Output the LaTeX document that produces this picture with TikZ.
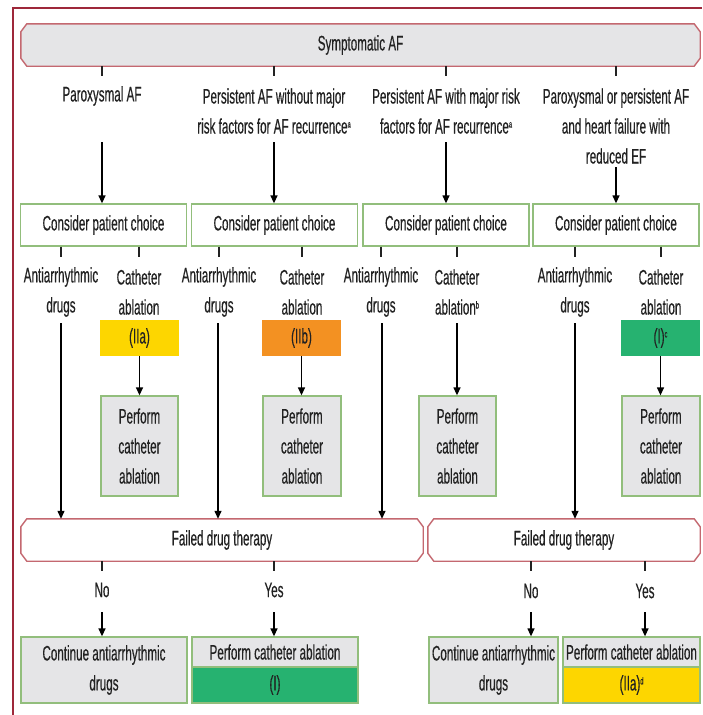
\documentclass[tikz,border=0pt]{standalone}
\usepackage{fontspec}
\setmainfont{Liberation Sans}[FakeStretch=0.555, FakeBold=0.4]
\usetikzlibrary{arrows.meta,backgrounds}

\definecolor{framered}{RGB}{158,40,58}
\definecolor{boxred}{RGB}{196,104,112}
\definecolor{boxgreen}{RGB}{146,190,124}
\definecolor{panelgray}{RGB}{229,229,231}
\definecolor{gradeyellow}{RGB}{253,214,0}
\definecolor{gradeorange}{RGB}{243,145,34}
\definecolor{gradegreen}{RGB}{38,178,112}
\definecolor{inkgray}{RGB}{34,34,34}

\newcommand\fnmark[1]{\raisebox{6pt}{\fontsize{10}{10}\selectfont #1}}

\tikzset{
  every node/.style={font=\fontsize{21}{30}\selectfont, text=inkgray, align=center, inner sep=0pt},
  choicebox/.style={draw=boxgreen, line width=1.3pt, fill=white, minimum width=166pt, minimum height=42pt},
  grayblock/.style={draw=boxgreen, line width=1.3pt, fill=panelgray},
  grade/.style={minimum width=79pt, minimum height=36pt},
  arr/.style={-{Triangle[length=8pt,width=7pt]}, line width=1.3pt, black},
  stub/.style={line width=2.2pt, inkgray},
  octo/.style={draw=boxred, line width=1.4pt},
}

% chamfered outline drawn around a named node
\newcommand\octoframe[2]{%
  \draw[octo, fill=#2] ([xshift=6pt]#1.north west) -- ([xshift=-6pt]#1.north east)
    -- ([yshift=-8pt]#1.north east) -- ([yshift=8pt]#1.south east)
    -- ([xshift=-6pt]#1.south east) -- ([xshift=6pt]#1.south west)
    -- ([yshift=8pt]#1.south west) -- ([yshift=-8pt]#1.north west) -- cycle;}

\begin{document}
\begin{tikzpicture}[x=1pt, y=-1pt]
\useasboundingbox (0,0) rectangle (702,715);

% outer frame
\draw[framered, line width=2pt] (13,715) -- (13,8) -- (702,8);

% top banner
\node[minimum width=679pt, minimum height=42pt] (sym) at (360.5,45) {Symptomatic AF};

% patient groups
\node (pa) at (102,96)  {Paroxysmal AF};
\node (pw) at (274,111) {Persistent AF without major\\risk factors for AF recurrence\fnmark{a}};
\node (pm) at (446,111) {Persistent AF with major risk\\factors for AF recurrence\fnmark{a}};
\node (ph) at (616,126) {Paroxysmal or persistent AF\\and heart failure with\\reduced EF};

\foreach \g in {pa,pw,pm,ph} \draw[stub] (sym.south -| \g) -- ++(0,10);

% patient choice
\node[choicebox] (c1) at (103.5,225) {Consider patient choice};
\node[choicebox] (c2) at (274.5,225) {Consider patient choice};
\node[choicebox] (c3) at (446,225)   {Consider patient choice};
\node[choicebox] (c4) at (616,225)   {Consider patient choice};

\coordinate (pa-out) at (102,142);
\coordinate (pw-out) at (274,142);
\coordinate (pm-out) at (446,142);
\coordinate (ph-out) at (616,167);
\draw[arr] (pa-out) -- (pa-out |- c1.north);
\draw[arr] (pw-out) -- (pw-out |- c2.north);
\draw[arr] (pm-out) -- (pm-out |- c3.north);
\draw[arr] (ph-out) -- (ph-out |- c4.north);

% treatment options
\node (d1) at (61,292)  {Antiarrhythmic\\drugs};
\node (k1) at (139,292) {Catheter\\ablation};
\node (d2) at (219,292) {Antiarrhythmic\\drugs};
\node (k2) at (302,292) {Catheter\\ablation};
\node (d3) at (381,292) {Antiarrhythmic\\drugs};
\node (k3) at (457,292) {Catheter\\ablation\fnmark{b}};
\node (d4) at (575,292) {Antiarrhythmic\\drugs};
\node (k4) at (661,292) {Catheter\\ablation};

\draw[stub] (c1.south -| d1) -- ++(0,10);
\draw[stub] (c1.south -| k1) -- ++(0,10);
\draw[stub] (c2.south -| d2) -- ++(0,10);
\draw[stub] (c2.south -| k2) -- ++(0,10);
\draw[stub] (c3.south -| d3) -- ++(0,10);
\draw[stub] (c3.south -| k3) -- ++(0,10);
\draw[stub] (c4.south -| d4) -- ++(0,10);
\draw[stub] (c4.south -| k4) -- ++(0,10);

% recommendation classes
\node[grade, fill=gradeyellow] (g1) at (139.5,338) {(IIa)};
\node[grade, fill=gradeorange] (g2) at (301.5,338) {(IIb)};
\node[grade, fill=gradegreen]  (g4) at (660.5,338) {(I)\fnmark{c}};

% ablation boxes
\node[grayblock, minimum width=77pt, minimum height=100pt] (r1) at (139.5,446) {Perform\\catheter\\ablation};
\node[grayblock, minimum width=78pt, minimum height=100pt] (r2) at (302,446)   {Perform\\catheter\\ablation};
\node[grayblock, minimum width=77pt, minimum height=100pt] (r3) at (457.5,446) {Perform\\catheter\\ablation};
\node[grayblock, minimum width=78pt, minimum height=100pt] (r4) at (661,446)   {Perform\\catheter\\ablation};

\coordinate (k3-out) at (457,323);
\draw[arr] (g1.south) -- (g1.south |- r1.north);
\draw[arr] (g2.south) -- (g2.south |- r2.north);
\draw[arr] (k3-out) -- (k3-out |- r3.north);
\draw[arr] (g4.south) -- (g4.south |- r4.north);

% failed drug therapy
\node[minimum width=402pt, minimum height=42pt] (f1) at (222,540) {Failed drug therapy};
\node[minimum width=272pt, minimum height=42pt] (f2) at (564,540) {Failed drug therapy};

\coordinate (d1-out) at (61,323);
\coordinate (d2-out) at (218,323);
\coordinate (d3-out) at (382,323);
\coordinate (d4-out) at (575,323);
\draw[arr] (d1-out) -- (d1-out |- f1.north);
\draw[arr] (d2-out) -- (d2-out |- f1.north);
\draw[arr] (d3-out) -- (d3-out |- f1.north);
\draw[arr] (d4-out) -- (d4-out |- f2.north);

% answers
\node (n1) at (102,590) {No};
\node (y1) at (274,590) {Yes};
\node (n2) at (531,591) {No};
\node (y2) at (645,591) {Yes};
\foreach \a/\b in {n1/f1,y1/f1,n2/f2,y2/f2} \draw[stub] (\b.south -| \a) -- ++(0,10);

% outcomes
\node[grayblock, minimum width=166pt, minimum height=66pt] (o1) at (104,670) {Continue antiarrhythmic\\drugs};
\node[grayblock, minimum width=166pt, minimum height=30pt] (t1) at (275,652) {Perform catheter ablation};
\node[draw=boxgreen, line width=1.3pt, fill=gradegreen, minimum width=166pt, minimum height=36pt] (b1) at (275,685) {(I)};
\node[grayblock, minimum width=129pt, minimum height=66pt] (o2) at (493.5,670) {Continue antiarrhythmic\\drugs};
\node[grayblock, minimum width=137pt, minimum height=30pt] (t2) at (631.5,652) {Perform catheter ablation};
\node[draw=boxgreen, line width=1.3pt, fill=gradeyellow, minimum width=137pt, minimum height=36pt] (b2) at (631.5,685) {(IIa)\fnmark{d}};

\coordinate (n1-out) at (102,612);
\coordinate (y1-out) at (274,612);
\coordinate (n2-out) at (531,612);
\coordinate (y2-out) at (645,612);
\draw[arr] (n1-out) -- (n1-out |- o1.north);
\draw[arr] (y1-out) -- (y1-out |- t1.north);
\draw[arr] (n2-out) -- (n2-out |- o2.north);
\draw[arr] (y2-out) -- (y2-out |- t2.north);

% white page and chamfered outlines behind everything else
\begin{scope}[on background layer]
  \fill[white] (0,0) rectangle (702,715);
  \octoframe{sym}{panelgray}
  \octoframe{f1}{white}
  \octoframe{f2}{white}
\end{scope}
\end{tikzpicture}
\end{document}
